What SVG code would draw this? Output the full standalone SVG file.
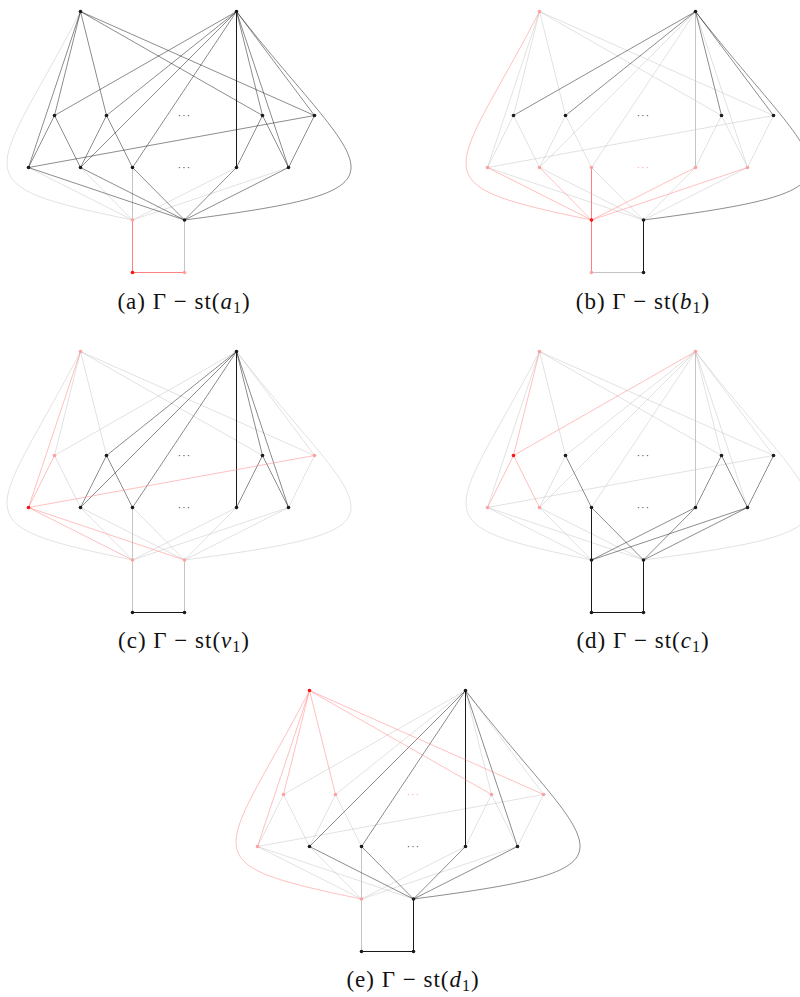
<svg xmlns="http://www.w3.org/2000/svg" width="800" height="997" viewBox="0 0 800 997">
<style>
use{fill:none;stroke-width:0.5}
use.k{stroke:#1a1a1a}
use.g{stroke:#c4c4c4}
use.r{stroke:#ff8080}
.n{fill:#1a1a1a}
.p{fill:#ffa0a0}
.c{fill:#ff1010}
.dots{font-family:"Liberation Sans",sans-serif;font-size:10px;letter-spacing:1.2px;text-anchor:middle;fill:#444}
.dots.pk{fill:#ffa0a0}
.cap{font-family:"Liberation Serif",serif;font-size:23px;letter-spacing:1px;text-anchor:middle;fill:#111}
</style>
<defs>
<path id="T1P1" d="M80.5 11.5L54.5 115.5"/>
<path id="T1P2" d="M80.5 11.5L106.5 115.5"/>
<path id="T1P3" d="M80.5 11.5L262.5 115.5"/>
<path id="T1P4" d="M80.5 11.5L314.5 115.5"/>
<path id="T1Q1" d="M80.5 11.5L28.5 167.5"/>
<path id="T1S1" d="M80.5 11.5C-6.8 179.5 -45.2 183.4 132.5 220"/>
<path id="T2P1" d="M236.5 11.5L54.5 115.5"/>
<path id="T2P2" d="M236.5 11.5L106.5 115.5"/>
<path id="T2P3" d="M236.5 11.5L262.5 115.5"/>
<path id="T2P4" d="M236.5 11.5L314.5 115.5"/>
<path id="T2Q2" d="M236.5 11.5L80.5 167.5"/>
<path id="T2Q3" d="M236.5 11.5L132.5 167.5"/>
<path id="T2Q4" d="M236.5 11.5L236.5 167.5" stroke-width="1"/>
<path id="T2Q5" d="M236.5 11.5L288.5 167.5"/>
<path id="T2S2" d="M236.5 11.5C365.6 176.9 430 188 184.5 220"/>
<path id="P1Q1" d="M54.5 115.5L28.5 167.5"/>
<path id="P1Q2" d="M54.5 115.5L80.5 167.5"/>
<path id="P2Q2" d="M106.5 115.5L80.5 167.5"/>
<path id="P2Q3" d="M106.5 115.5L132.5 167.5"/>
<path id="P3Q4" d="M262.5 115.5L236.5 167.5"/>
<path id="P3Q5" d="M262.5 115.5L288.5 167.5"/>
<path id="P4Q5" d="M314.5 115.5L288.5 167.5"/>
<path id="P4Q1" d="M314.5 115.5L28.5 167.5"/>
<path id="S1Q1" d="M132.5 220L28.5 167.5"/>
<path id="S1Q2" d="M132.5 220L80.5 167.5"/>
<path id="S1Q3" d="M132.5 220L132.5 167.5" stroke-width="1"/>
<path id="S1Q4" d="M132.5 220L236.5 167.5"/>
<path id="S1Q5" d="M132.5 220L288.5 167.5"/>
<path id="S2Q1" d="M184.5 220L28.5 167.5"/>
<path id="S2Q2" d="M184.5 220L80.5 167.5"/>
<path id="S2Q3" d="M184.5 220L132.5 167.5"/>
<path id="S2Q4" d="M184.5 220L236.5 167.5"/>
<path id="S2Q5" d="M184.5 220L288.5 167.5"/>
<path id="S1U1" d="M132.5 220L132.5 272.5" stroke-width="1"/>
<path id="S2U2" d="M184.5 220L184.5 272.5" stroke-width="1"/>
<path id="U1U2" d="M132.5 272.5L184.5 272.5" stroke-width="1"/>
</defs>

<!-- Panel (a) -->
<g id="panel-a">
<g id="a-edges">
<use href="#T1S1" class="g"/><use href="#S1Q1" class="g"/><use href="#S1Q2" class="g"/><use href="#S1Q3" class="g"/><use href="#S1Q4" class="g"/><use href="#S1Q5" class="g"/><use href="#S2U2" class="g"/>
<use href="#T1P1" class="k"/><use href="#T1P2" class="k"/><use href="#T1P3" class="k"/><use href="#T1P4" class="k"/><use href="#T1Q1" class="k"/>
<use href="#T2P1" class="k"/><use href="#T2P2" class="k"/><use href="#T2P3" class="k"/><use href="#T2P4" class="k"/>
<use href="#T2Q2" class="k"/><use href="#T2Q3" class="k"/><use href="#T2Q4" class="k"/><use href="#T2Q5" class="k"/><use href="#T2S2" class="k"/>
<use href="#P1Q1" class="k"/><use href="#P1Q2" class="k"/><use href="#P2Q2" class="k"/><use href="#P2Q3" class="k"/><use href="#P3Q4" class="k"/><use href="#P3Q5" class="k"/><use href="#P4Q5" class="k"/><use href="#P4Q1" class="k"/>
<use href="#S2Q1" class="k"/><use href="#S2Q2" class="k"/><use href="#S2Q3" class="k"/><use href="#S2Q4" class="k"/><use href="#S2Q5" class="k"/>
<use href="#S1U1" class="r"/><use href="#U1U2" class="r"/>
</g>
<g id="a-T1"><circle class="n" cx="80.5" cy="11.5" r="1.8"/></g>
<g id="a-T2"><circle class="n" cx="236.5" cy="11.5" r="1.8"/></g>
<g id="a-P1"><circle class="n" cx="54.5" cy="115.5" r="1.8"/></g>
<g id="a-P2"><circle class="n" cx="106.5" cy="115.5" r="1.8"/></g>
<g id="a-P3"><circle class="n" cx="262.5" cy="115.5" r="1.8"/></g>
<g id="a-P4"><circle class="n" cx="314.5" cy="115.5" r="1.8"/></g>
<g id="a-Q1"><circle class="n" cx="28.5" cy="167.5" r="1.8"/></g>
<g id="a-Q2"><circle class="n" cx="80.5" cy="167.5" r="1.8"/></g>
<g id="a-Q3"><circle class="n" cx="132.5" cy="167.5" r="1.8"/></g>
<g id="a-Q4"><circle class="n" cx="236.5" cy="167.5" r="1.8"/></g>
<g id="a-Q5"><circle class="n" cx="288.5" cy="167.5" r="1.8"/></g>
<g id="a-S1"><circle class="p" cx="132.5" cy="220" r="1.8"/></g>
<g id="a-S2"><circle class="n" cx="184.5" cy="220" r="1.8"/></g>
<g id="a-U1"><circle class="c" cx="132.5" cy="272.5" r="1.8"/></g>
<g id="a-U2"><circle class="p" cx="184.5" cy="272.5" r="1.8"/></g>
<text class="dots" x="184.5" y="119">···</text>
<text class="dots" x="184.5" y="171">···</text>
<text class="cap" x="184" y="309">(a) Γ − st(<tspan font-style="italic">a</tspan><tspan font-size="16" dy="4">1</tspan><tspan dy="-4">)</tspan></text>
</g>

<!-- Panel (b) -->
<g id="panel-b" transform="translate(459,0)">
<g id="b-edges">
<use href="#T1P1" class="g"/><use href="#T1P2" class="g"/><use href="#T1P3" class="g"/><use href="#T1P4" class="g"/><use href="#T1Q1" class="g"/>
<use href="#T2Q2" class="g"/><use href="#T2Q3" class="g"/><use href="#T2Q4" class="g"/><use href="#T2Q5" class="g"/>
<use href="#P1Q1" class="g"/><use href="#P1Q2" class="g"/><use href="#P2Q2" class="g"/><use href="#P2Q3" class="g"/><use href="#P3Q4" class="g"/><use href="#P3Q5" class="g"/><use href="#P4Q5" class="g"/><use href="#P4Q1" class="g"/>
<use href="#S2Q1" class="g"/><use href="#S2Q2" class="g"/><use href="#S2Q3" class="g"/><use href="#S2Q4" class="g"/><use href="#S2Q5" class="g"/><use href="#U1U2" class="g"/>
<use href="#T2P1" class="k"/><use href="#T2P2" class="k"/><use href="#T2P3" class="k"/><use href="#T2P4" class="k"/><use href="#T2S2" class="k"/><use href="#S2U2" class="k"/>
<use href="#T1S1" class="r"/><use href="#S1Q1" class="r"/><use href="#S1Q2" class="r"/><use href="#S1Q3" class="r"/><use href="#S1Q4" class="r"/><use href="#S1Q5" class="r"/><use href="#S1U1" class="r"/>
</g>
<g id="b-T1"><circle class="p" cx="80.5" cy="11.5" r="1.8"/></g>
<g id="b-T2"><circle class="n" cx="236.5" cy="11.5" r="1.8"/></g>
<g id="b-P1"><circle class="n" cx="54.5" cy="115.5" r="1.8"/></g>
<g id="b-P2"><circle class="n" cx="106.5" cy="115.5" r="1.8"/></g>
<g id="b-P3"><circle class="n" cx="262.5" cy="115.5" r="1.8"/></g>
<g id="b-P4"><circle class="n" cx="314.5" cy="115.5" r="1.8"/></g>
<g id="b-Q1"><circle class="p" cx="28.5" cy="167.5" r="1.8"/></g>
<g id="b-Q2"><circle class="p" cx="80.5" cy="167.5" r="1.8"/></g>
<g id="b-Q3"><circle class="p" cx="132.5" cy="167.5" r="1.8"/></g>
<g id="b-Q4"><circle class="p" cx="236.5" cy="167.5" r="1.8"/></g>
<g id="b-Q5"><circle class="p" cx="288.5" cy="167.5" r="1.8"/></g>
<g id="b-S1"><circle class="c" cx="132.5" cy="220" r="1.8"/></g>
<g id="b-S2"><circle class="n" cx="184.5" cy="220" r="1.8"/></g>
<g id="b-U1"><circle class="p" cx="132.5" cy="272.5" r="1.8"/></g>
<g id="b-U2"><circle class="n" cx="184.5" cy="272.5" r="1.8"/></g>
<text class="dots" x="184.5" y="119">···</text>
<text class="dots pk" x="184.5" y="171">···</text>
<text class="cap" x="184" y="309">(b) Γ − st(<tspan font-style="italic">b</tspan><tspan font-size="16" dy="4">1</tspan><tspan dy="-4">)</tspan></text>
</g>

<!-- Panel (c) -->
<g id="panel-c" transform="translate(0,340)">
<g id="c-edges">
<use href="#T1P1" class="g"/><use href="#T1P2" class="g"/><use href="#T1P3" class="g"/><use href="#T1P4" class="g"/><use href="#T1S1" class="g"/>
<use href="#T2P1" class="g"/><use href="#T2P4" class="g"/><use href="#T2S2" class="g"/><use href="#P1Q2" class="g"/><use href="#P4Q5" class="g"/>
<use href="#S1Q2" class="g"/><use href="#S1Q3" class="g"/><use href="#S1Q4" class="g"/><use href="#S1Q5" class="g"/>
<use href="#S2Q2" class="g"/><use href="#S2Q3" class="g"/><use href="#S2Q4" class="g"/><use href="#S2Q5" class="g"/><use href="#S1U1" class="g"/><use href="#S2U2" class="g"/>
<use href="#T2P2" class="k"/><use href="#T2P3" class="k"/><use href="#T2Q2" class="k"/><use href="#T2Q3" class="k"/><use href="#T2Q4" class="k"/><use href="#T2Q5" class="k"/>
<use href="#P2Q2" class="k"/><use href="#P2Q3" class="k"/><use href="#P3Q4" class="k"/><use href="#P3Q5" class="k"/><use href="#U1U2" class="k"/>
<use href="#T1Q1" class="r"/><use href="#P1Q1" class="r"/><use href="#P4Q1" class="r"/><use href="#S1Q1" class="r"/><use href="#S2Q1" class="r"/>
</g>
<g id="c-T1"><circle class="p" cx="80.5" cy="11.5" r="1.8"/></g>
<g id="c-T2"><circle class="n" cx="236.5" cy="11.5" r="1.8"/></g>
<g id="c-P1"><circle class="p" cx="54.5" cy="115.5" r="1.8"/></g>
<g id="c-P2"><circle class="n" cx="106.5" cy="115.5" r="1.8"/></g>
<g id="c-P3"><circle class="n" cx="262.5" cy="115.5" r="1.8"/></g>
<g id="c-P4"><circle class="p" cx="314.5" cy="115.5" r="1.8"/></g>
<g id="c-Q1"><circle class="c" cx="28.5" cy="167.5" r="1.8"/></g>
<g id="c-Q2"><circle class="n" cx="80.5" cy="167.5" r="1.8"/></g>
<g id="c-Q3"><circle class="n" cx="132.5" cy="167.5" r="1.8"/></g>
<g id="c-Q4"><circle class="n" cx="236.5" cy="167.5" r="1.8"/></g>
<g id="c-Q5"><circle class="n" cx="288.5" cy="167.5" r="1.8"/></g>
<g id="c-S1"><circle class="p" cx="132.5" cy="220" r="1.8"/></g>
<g id="c-S2"><circle class="p" cx="184.5" cy="220" r="1.8"/></g>
<g id="c-U1"><circle class="n" cx="132.5" cy="272.5" r="1.8"/></g>
<g id="c-U2"><circle class="n" cx="184.5" cy="272.5" r="1.8"/></g>
<text class="dots" x="184.5" y="119">···</text>
<text class="dots" x="184.5" y="171">···</text>
<text class="cap" x="184" y="308">(c) Γ − st(<tspan font-style="italic">v</tspan><tspan font-size="16" dy="4">1</tspan><tspan dy="-4">)</tspan></text>
</g>

<!-- Panel (d) -->
<g id="panel-d" transform="translate(459,340)">
<g id="d-edges">
<use href="#T1P2" class="g"/><use href="#T1P3" class="g"/><use href="#T1P4" class="g"/><use href="#T1Q1" class="g"/><use href="#T1S1" class="g"/>
<use href="#T2P2" class="g"/><use href="#T2P3" class="g"/><use href="#T2P4" class="g"/><use href="#T2Q2" class="g"/><use href="#T2Q3" class="g"/><use href="#T2Q4" class="g"/><use href="#T2Q5" class="g"/><use href="#T2S2" class="g"/>
<use href="#P2Q2" class="g"/><use href="#P4Q1" class="g"/><use href="#S1Q1" class="g"/><use href="#S1Q2" class="g"/><use href="#S2Q1" class="g"/><use href="#S2Q2" class="g"/>
<use href="#P2Q3" class="k"/><use href="#P3Q4" class="k"/><use href="#P3Q5" class="k"/><use href="#P4Q5" class="k"/>
<use href="#S1Q3" class="k"/><use href="#S1Q4" class="k"/><use href="#S1Q5" class="k"/><use href="#S2Q3" class="k"/><use href="#S2Q4" class="k"/><use href="#S2Q5" class="k"/>
<use href="#S1U1" class="k"/><use href="#S2U2" class="k"/><use href="#U1U2" class="k"/>
<use href="#T1P1" class="r"/><use href="#T2P1" class="r"/><use href="#P1Q1" class="r"/><use href="#P1Q2" class="r"/>
</g>
<g id="d-T1"><circle class="p" cx="80.5" cy="11.5" r="1.8"/></g>
<g id="d-T2"><circle class="p" cx="236.5" cy="11.5" r="1.8"/></g>
<g id="d-P1"><circle class="c" cx="54.5" cy="115.5" r="1.8"/></g>
<g id="d-P2"><circle class="n" cx="106.5" cy="115.5" r="1.8"/></g>
<g id="d-P3"><circle class="n" cx="262.5" cy="115.5" r="1.8"/></g>
<g id="d-P4"><circle class="n" cx="314.5" cy="115.5" r="1.8"/></g>
<g id="d-Q1"><circle class="p" cx="28.5" cy="167.5" r="1.8"/></g>
<g id="d-Q2"><circle class="p" cx="80.5" cy="167.5" r="1.8"/></g>
<g id="d-Q3"><circle class="n" cx="132.5" cy="167.5" r="1.8"/></g>
<g id="d-Q4"><circle class="n" cx="236.5" cy="167.5" r="1.8"/></g>
<g id="d-Q5"><circle class="n" cx="288.5" cy="167.5" r="1.8"/></g>
<g id="d-S1"><circle class="n" cx="132.5" cy="220" r="1.8"/></g>
<g id="d-S2"><circle class="n" cx="184.5" cy="220" r="1.8"/></g>
<g id="d-U1"><circle class="n" cx="132.5" cy="272.5" r="1.8"/></g>
<g id="d-U2"><circle class="n" cx="184.5" cy="272.5" r="1.8"/></g>
<text class="dots" x="184.5" y="119">···</text>
<text class="dots" x="184.5" y="171">···</text>
<text class="cap" x="184" y="308">(d) Γ − st(<tspan font-style="italic">c</tspan><tspan font-size="16" dy="4">1</tspan><tspan dy="-4">)</tspan></text>
</g>

<!-- Panel (e) -->
<g id="panel-e" transform="translate(229,679)">
<g id="e-edges">
<use href="#T2P1" class="g"/><use href="#T2P2" class="g"/><use href="#T2P3" class="g"/><use href="#T2P4" class="g"/>
<use href="#P1Q1" class="g"/><use href="#P1Q2" class="g"/><use href="#P2Q2" class="g"/><use href="#P2Q3" class="g"/><use href="#P3Q4" class="g"/><use href="#P3Q5" class="g"/><use href="#P4Q5" class="g"/><use href="#P4Q1" class="g"/>
<use href="#S1Q1" class="g"/><use href="#S1Q2" class="g"/><use href="#S1Q3" class="g"/><use href="#S1Q4" class="g"/><use href="#S1Q5" class="g"/><use href="#S2Q1" class="g"/><use href="#S1U1" class="g"/>
<use href="#T2Q2" class="k"/><use href="#T2Q3" class="k"/><use href="#T2Q4" class="k"/><use href="#T2Q5" class="k"/><use href="#T2S2" class="k"/>
<use href="#S2Q2" class="k"/><use href="#S2Q3" class="k"/><use href="#S2Q4" class="k"/><use href="#S2Q5" class="k"/><use href="#S2U2" class="k"/><use href="#U1U2" class="k"/>
<use href="#T1P1" class="r"/><use href="#T1P2" class="r"/><use href="#T1P3" class="r"/><use href="#T1P4" class="r"/><use href="#T1Q1" class="r"/><use href="#T1S1" class="r"/>
</g>
<g id="e-T1"><circle class="c" cx="80.5" cy="11.5" r="1.8"/></g>
<g id="e-T2"><circle class="n" cx="236.5" cy="11.5" r="1.8"/></g>
<g id="e-P1"><circle class="p" cx="54.5" cy="115.5" r="1.8"/></g>
<g id="e-P2"><circle class="p" cx="106.5" cy="115.5" r="1.8"/></g>
<g id="e-P3"><circle class="p" cx="262.5" cy="115.5" r="1.8"/></g>
<g id="e-P4"><circle class="p" cx="314.5" cy="115.5" r="1.8"/></g>
<g id="e-Q1"><circle class="p" cx="28.5" cy="167.5" r="1.8"/></g>
<g id="e-Q2"><circle class="n" cx="80.5" cy="167.5" r="1.8"/></g>
<g id="e-Q3"><circle class="n" cx="132.5" cy="167.5" r="1.8"/></g>
<g id="e-Q4"><circle class="n" cx="236.5" cy="167.5" r="1.8"/></g>
<g id="e-Q5"><circle class="n" cx="288.5" cy="167.5" r="1.8"/></g>
<g id="e-S1"><circle class="p" cx="132.5" cy="220" r="1.8"/></g>
<g id="e-S2"><circle class="n" cx="184.5" cy="220" r="1.8"/></g>
<g id="e-U1"><circle class="n" cx="132.5" cy="272.5" r="1.8"/></g>
<g id="e-U2"><circle class="n" cx="184.5" cy="272.5" r="1.8"/></g>
<text class="dots pk" x="184.5" y="119">···</text>
<text class="dots" x="184.5" y="171">···</text>
<text class="cap" x="184" y="308">(e) Γ − st(<tspan font-style="italic">d</tspan><tspan font-size="16" dy="4">1</tspan><tspan dy="-4">)</tspan></text>
</g>
</svg>
